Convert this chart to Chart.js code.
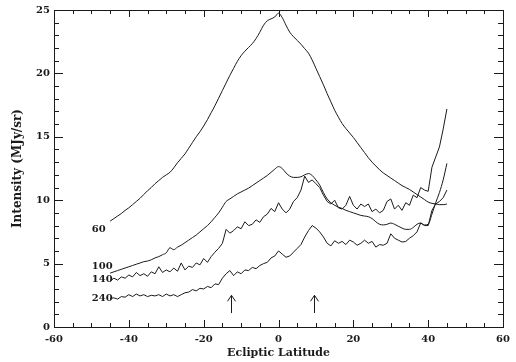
<!DOCTYPE html>
<html>
<head>
<meta charset="utf-8">
<script src="https://cdn.jsdelivr.net/npm/chart.js@4.4.0/dist/chart.umd.min.js"></script>
<style>
  html, body { margin: 0; padding: 0; background: #fff; }
  #wrap { width: 516px; height: 362px; }
</style>
</head>
<body>
<div id="wrap"><canvas id="chart" width="516" height="362"></canvas></div>
<script>
// Ecliptic latitude grid (degrees), shared by all four profiles
const latitude = [
  -45, -44, -43, -42, -41, -40, -39, -38, -37, -36, -35, -34, -33, -32, -31,
  -30, -29, -28, -27, -26, -25, -24, -23, -22, -21, -20, -19, -18, -17, -16,
  -15, -14, -13, -12, -11, -10, -9, -8, -7, -6, -5, -4, -3, -2, -1,
  0, 1, 2, 3, 4, 5, 6, 7, 8, 9, 10, 11, 12, 13, 14,
  15, 16, 17, 18, 19, 20, 21, 22, 23, 24, 25, 26, 27, 28, 29,
  30, 31, 32, 33, 34, 35, 36, 37, 38, 39, 40, 41, 42, 43, 44, 45
];

// Intensity (MJy/sr), one array per wavelength
const intensity60 = [
  8.35, 8.55, 8.75, 8.95, 9.2, 9.4, 9.65, 9.9, 10.15, 10.45, 10.75, 11.0, 11.3, 11.55, 11.8,
  12.0, 12.2, 12.55, 12.95, 13.3, 13.65, 14.1, 14.55, 15.0, 15.4, 15.85, 16.35, 16.9, 17.45, 18.05,
  18.65, 19.25, 19.85, 20.4, 20.95, 21.4, 21.75, 22.05, 22.35, 22.75, 23.25, 23.8, 24.15, 24.3, 24.45,
  24.75, 24.4, 23.8, 23.25, 22.9, 22.6, 22.3, 21.95, 21.6, 21.05, 20.4, 19.75, 19.1, 18.4, 17.75,
  17.1, 16.55, 16.05, 15.65, 15.3, 14.95, 14.55, 14.15, 13.75, 13.35, 13.0, 12.7, 12.4, 12.15, 11.95,
  11.75, 11.55, 11.35, 11.15, 11.0, 10.85, 10.65, 10.45, 10.25, 10.05, 9.85, 9.75, 9.7, 9.65, 9.65, 9.7
];
const intensity100 = [
  4.25, 4.35, 4.45, 4.55, 4.65, 4.75, 4.85, 4.95, 5.05, 5.15, 5.2, 5.3, 5.45, 5.55, 5.7,
  5.85, 6.25, 6.1, 6.3, 6.45, 6.65, 6.85, 7.05, 7.25, 7.5, 7.75, 8.0, 8.3, 8.65, 9.0,
  9.45, 9.9, 10.1, 10.3, 10.5, 10.65, 10.8, 10.95, 11.15, 11.35, 11.55, 11.75, 11.95, 12.2, 12.45,
  12.65, 12.5, 12.15, 11.9, 11.8, 11.8, 11.85, 12.0, 12.1, 11.95, 11.6, 11.2, 10.6, 10.1, 9.8,
  9.6, 9.45, 9.35, 9.2, 9.1, 9.0, 8.9, 8.8, 8.75, 8.7, 8.55, 8.3, 8.1, 8.05, 8.1,
  8.2, 8.1, 7.95, 7.8, 7.7, 7.7, 7.85, 8.1, 8.2, 8.05, 8.1, 8.9, 9.8, 10.6, 11.6, 12.9
];
const intensity140 = [
  3.6, 3.85, 3.7, 3.95, 3.85, 4.1, 3.95, 4.3, 4.05, 4.2, 4.0, 4.35, 4.2, 4.75, 4.3,
  4.5, 4.35, 4.65, 4.4, 5.05, 4.5, 4.8, 4.7, 5.05, 4.9, 5.4, 5.1, 5.55, 5.9, 6.2,
  6.6, 7.7, 7.4, 7.6, 7.9, 7.75, 8.3, 8.0, 8.1, 8.45, 8.25, 8.7, 8.9, 9.35, 9.1,
  9.8, 9.3, 9.0, 9.3, 9.9, 10.2, 10.8, 11.9, 11.4, 11.6, 11.3, 11.0, 10.4, 9.9, 9.7,
  10.0, 9.4, 9.3, 9.6, 10.3, 9.6, 9.3, 9.7, 9.5, 9.7, 9.1, 9.3, 9.0, 9.2, 9.9,
  10.1, 9.3, 9.6, 9.2, 9.8, 9.6, 10.4, 10.2, 11.0, 10.8, 10.7, 12.6, 13.4, 14.2, 15.6, 17.2
];
const intensity240 = [
  2.25, 2.3, 2.2, 2.4, 2.35, 2.55, 2.4, 2.6, 2.45, 2.55, 2.4, 2.5, 2.45, 2.55, 2.4,
  2.6, 2.45, 2.55, 2.4, 2.55, 2.7, 2.75, 2.95, 2.85, 3.05, 3.0, 3.2, 3.1, 3.4, 3.35,
  3.85, 4.2, 4.45, 4.05, 4.35, 4.2, 4.5, 4.45, 4.7, 4.6, 4.85, 5.0, 5.1, 5.45, 5.6,
  6.0, 5.75, 5.5, 5.6, 5.9, 6.2, 6.5, 7.1, 7.6, 8.0, 7.8, 7.5, 7.1, 6.6, 6.4,
  6.8, 6.6, 6.75, 6.5, 6.85, 6.7, 6.45, 6.6, 6.85, 6.6, 6.75, 6.3, 6.5, 6.45, 6.6,
  7.35, 7.0, 6.85, 6.7, 6.75, 7.0, 7.2, 7.5, 8.2, 8.0, 8.0, 9.2, 9.7, 9.9, 10.2, 10.8
];

// curve labels, placed in data coordinates (left edge of the text)
const curveLabels = ['60', '100', '140', '240'];
const curveLabelLat = [-49.9, -49.9, -49.9, -49.9];
const curveLabelInt = [7.73, 4.77, 3.73, 2.29];

// upward arrows marking features
const arrowLat = [-12.6, 9.6];
const arrowFrom = 1.1;
const arrowTo = 2.5;

const INK = '#1a1a1a';
const FONT = { family: '"DejaVu Serif", serif', size: 10, weight: 'bold' };

function toPoints(values) {
  return latitude.map((lat, i) => ({ x: lat, y: values[i] }));
}

function makeSeries(label, values, smooth) {
  return {
    label: label,
    data: toPoints(values),
    borderColor: INK,
    borderWidth: 1,
    pointRadius: 0,
    fill: false,
    tension: smooth ? 0.4 : 0,
    cubicInterpolationMode: smooth ? 'monotone' : 'default'
  };
}

// frame, inward ticks on all four sides, arrows and curve labels
const decorPlugin = {
  id: 'decor',
  afterDatasetsDraw(chart) {
    const ctx = chart.ctx;
    const area = chart.chartArea;
    const xs = chart.scales.x;
    const ys = chart.scales.y;

    ctx.save();
    ctx.strokeStyle = INK;
    ctx.lineWidth = 1;
    ctx.strokeRect(Math.round(area.left) + 0.5, Math.round(area.top) + 0.5,
      Math.round(area.right - area.left), Math.round(area.bottom - area.top));

    ctx.beginPath();
    for (let v = -60; v <= 60; v += 5) {
      const px = Math.round(xs.getPixelForValue(v)) + 0.5;
      const len = (v % 20 === 0) ? 7 : 4;
      ctx.moveTo(px, area.bottom);
      ctx.lineTo(px, area.bottom - len);
      ctx.moveTo(px, area.top);
      ctx.lineTo(px, area.top + len);
    }
    for (let v = 0; v <= 25; v += 1) {
      const py = Math.round(ys.getPixelForValue(v)) + 0.5;
      const len = (v % 5 === 0) ? 9 : 5;
      ctx.moveTo(area.left, py);
      ctx.lineTo(area.left + len, py);
      ctx.moveTo(area.right, py);
      ctx.lineTo(area.right - len, py);
    }
    ctx.stroke();

    // arrows
    ctx.beginPath();
    arrowLat.forEach(lat => {
      const px = Math.round(xs.getPixelForValue(lat)) + 0.5;
      const y0 = ys.getPixelForValue(arrowFrom);
      const y1 = ys.getPixelForValue(arrowTo);
      ctx.moveTo(px, y0);
      ctx.lineTo(px, y1);
      ctx.moveTo(px - 4, y1 + 6);
      ctx.lineTo(px, y1);
      ctx.lineTo(px + 4, y1 + 6);
    });
    ctx.stroke();

    // curve labels
    ctx.fillStyle = INK;
    ctx.font = FONT.weight + ' ' + FONT.size + 'px ' + FONT.family;
    ctx.textAlign = 'left';
    ctx.textBaseline = 'middle';
    curveLabels.forEach((txt, i) => {
      ctx.fillText(txt, xs.getPixelForValue(curveLabelLat[i]), ys.getPixelForValue(curveLabelInt[i]));
    });
    ctx.restore();
  }
};

new Chart(document.getElementById('chart').getContext('2d'), {
  type: 'line',
  data: {
    datasets: [
      makeSeries('60', intensity60, true),
      makeSeries('100', intensity100, true),
      makeSeries('140', intensity140, false),
      makeSeries('240', intensity240, false)
    ]
  },
  options: {
    responsive: false,
    animation: false,
    devicePixelRatio: 1,
    layout: { padding: { top: 7, right: 12, left: 0, bottom: 0 } },
    plugins: {
      legend: { display: false },
      tooltip: { enabled: false }
    },
    scales: {
      x: {
        type: 'linear',
        min: -60,
        max: 60,
        afterFit: s => { s.height = 35; },
        ticks: { stepSize: 20, color: INK, font: FONT, padding: 6, maxRotation: 0 },
        grid: { display: false, drawTicks: false },
        border: { display: false },
        title: {
          display: true,
          text: 'Ecliptic Latitude',
          color: INK,
          font: { family: FONT.family, size: 11, weight: 'bold' },
          padding: { top: 0, bottom: 2 }
        }
      },
      y: {
        min: 0,
        max: 25,
        afterFit: s => { s.width = 54; },
        ticks: { stepSize: 5, color: INK, font: FONT, padding: 4 },
        grid: { display: false, drawTicks: false },
        border: { display: false },
        title: {
          display: true,
          text: 'Intensity (MJy/sr)',
          color: INK,
          font: { family: FONT.family, size: 12, weight: 'bold' },
          padding: { top: 11, bottom: 0 }
        }
      }
    }
  },
  plugins: [decorPlugin]
});
</script>
</body>
</html>
